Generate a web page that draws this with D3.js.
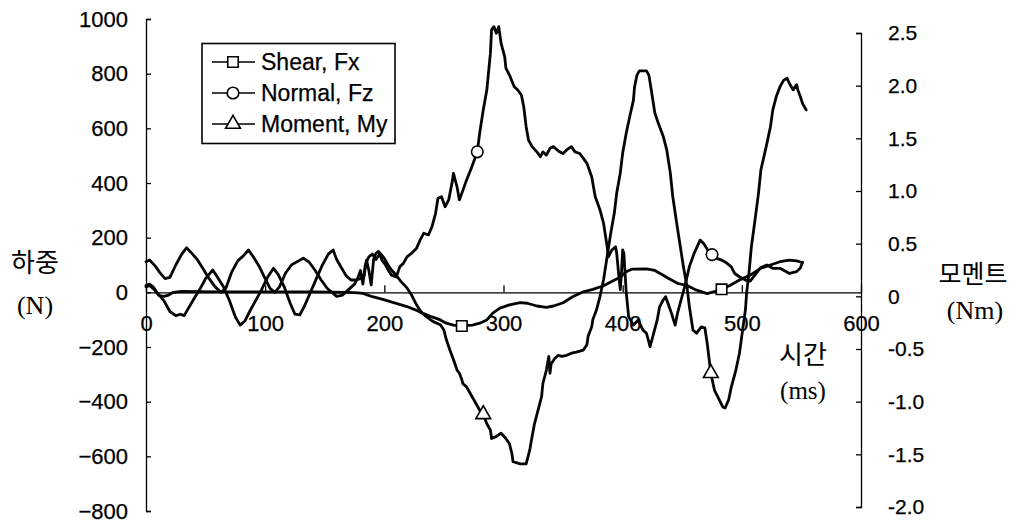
<!DOCTYPE html>
<html><head><meta charset="utf-8">
<script src="https://cdn.jsdelivr.net/npm/d3@7"></script>
<style>body{margin:0;background:#fff}svg{display:block}</style>
</head><body>
<svg id="chart" width="1020" height="526"></svg>
<script>
// ---- data ----
const xTicks = [0, 100, 200, 300, 400, 500, 600];
const leftTicks = [-800, -600, -400, -200, 0, 200, 400, 600, 800, 1000];
const rightTicks = [-2, -1.5, -1, -0.5, 0, 0.5, 1, 1.5, 2, 2.5];
const rightTickLabels = ["-2.0", "-1.5", "-1.0", "-0.5", "0", "0.5", "1.0", "1.5", "2.0", "2.5"];
const seriesNames = ["Shear, Fx", "Normal, Fz", "Moment, My"];

// Shear Fx [ms, N] (left axis)
const shear = [[0,20],[3,25],[7,10],[11,-12],[15,-15],[19,-10],[23,0],[30,3],[60,2],[100,2],[140,2],[170,0],[178,-2],[182,-4],[190,-16],[198,-25],[205,-34],[212,-43],[219,-52],[226,-64],[232,-76],[240,-90],[247,-101],[252,-113],[258,-120],[265,-123],[274,-120],[280,-113],[286,-101],[291,-76],[297,-58],[305,-46],[314,-38],[320,-40],[328,-50],[336,-55],[342,-50],[350,-38],[358,-16],[367,2],[375,11],[384,24],[392,42],[398,55],[403,75],[408,85],[420,86],[427,80],[433,65],[439,50],[446,33],[454,25],[462,8],[471,-5],[477,3],[483,11],[490,25],[498,45],[507,63],[516,88],[524,100],[532,112],[540,118],[546,115],[550,110]];

// Normal Fz [ms, N] (left axis)
const normal = [[0,112],[3,118],[8,95],[12,70],[16,50],[20,55],[25,100],[30,140],[34,163],[38,145],[43,120],[48,85],[53,50],[58,20],[63,0],[67,15],[72,75],[77,115],[82,135],[86,155],[90,130],[95,95],[100,50],[104,15],[108,0],[112,20],[117,70],[122,100],[128,115],[132,125],[137,110],[142,80],[147,45],[152,15],[156,0],[160,-15],[165,-10],[170,10],[175,30],[178,55],[180,80],[182,30],[184,100],[187,130],[190,140],[193,120],[196,140],[198,118],[201,100],[204,76],[206,63],[210,56],[213,94],[216,106],[219,130],[223,143],[227,161],[230,191],[233,216],[237,210],[240,240],[243,289],[245,344],[248,350],[251,313],[254,338],[257,405],[258,435],[261,386],[263,338],[265,362],[269,411],[273,454],[278,514],[280,582],[283,667],[286,740],[289,874],[290,960],[292,972],[294,948],[296,972],[298,911],[301,862],[302,820],[305,795],[309,752],[312,740],[315,722],[317,679],[319,606],[321,557],[324,533],[328,514],[331,496],[333,514],[336,502],[339,527],[342,533],[345,521],[347,514],[350,508],[353,521],[357,533],[360,514],[364,508],[367,490],[370,472],[374,423],[377,350],[381,301],[384,252],[387,167],[388,130],[391,155],[394,167],[395,143],[397,50],[398,10],[399,70],[400,155],[401,143],[402,70],[403,0],[405,-89],[409,-120],[413,-101],[417,-138],[420,-150],[423,-199],[426,-150],[429,-101],[431,-53],[434,-28],[436,-16],[438,-40],[441,-77],[444,-120],[446,-77],[449,-28],[452,20],[456,94],[460,143],[465,191],[468,179],[472,150],[475,138],[479,124],[483,118],[487,108],[491,94],[494,69],[498,57],[503,45],[507,41],[512,69],[516,91],[521,100],[526,88],[532,88],[540,69],[546,76],[549,88],[551,110]];

// Moment My [ms, Nm] (right axis)
const moment = [[0,0.103],[3,0.116],[6,0.09],[10,0.025],[15,-0.04],[20,-0.144],[25,-0.183],[29,-0.17],[32,-0.183],[36,-0.105],[40,-0.027],[45,0.064],[50,0.168],[56,0.251],[60,0.181],[65,0.09],[70,-0.04],[75,-0.196],[79,-0.273],[83,-0.234],[87,-0.144],[92,-0.04],[97,0.064],[102,0.181],[107,0.266],[111,0.207],[116,0.09],[121,-0.066],[125,-0.17],[129,-0.177],[133,-0.092],[138,0.038],[143,0.168],[148,0.297],[153,0.401],[157,0.44],[160,0.349],[164,0.272],[168,0.194],[172,0.155],[176,0.155],[180,0.168],[183,0.194],[185,0.344],[187,0.246],[189,0.108],[191,0.349],[193,0.409],[195,0.427],[198,0.39],[200,0.36],[203,0.3],[206,0.25],[210,0.2],[214,0.14],[219,0.08],[223,0.01],[227,-0.08],[231,-0.15],[235,-0.19],[241,-0.24],[247,-0.27],[250,-0.32],[252,-0.41],[255,-0.51],[258,-0.6],[261,-0.7],[263,-0.73],[265,-0.79],[266,-0.83],[269,-0.86],[272,-0.92],[275,-0.98],[277,-1.02],[281,-1.1],[283,-1.12],[286,-1.21],[289,-1.27],[290,-1.35],[294,-1.33],[298,-1.3],[302,-1.35],[305,-1.4],[307,-1.49],[308,-1.57],[314,-1.59],[319,-1.59],[322,-1.46],[324,-1.33],[326,-1.21],[329,-1.08],[332,-0.95],[333,-0.83],[336,-0.7],[338,-0.57],[339,-0.73],[340,-0.64],[343,-0.59],[346,-0.56],[349,-0.57],[353,-0.56],[357,-0.54],[361,-0.53],[367,-0.51],[370,-0.46],[371,-0.38],[374,-0.29],[375,-0.22],[378,-0.13],[381,0],[384,0.16],[387,0.38],[390,0.6],[393,0.79],[395,0.98],[398,1.17],[400,1.36],[403,1.55],[406,1.71],[409,1.86],[410,1.99],[412,2.1],[414,2.14],[420,2.14],[422,2.1],[424,1.96],[427,1.74],[430,1.64],[434,1.52],[437,1.39],[440,1.17],[442,0.95],[445,0.72],[448,0.5],[451,0.28],[454,0.09],[456,-0.1],[459,-0.32],[462,-0.35],[466,-0.29],[469,-0.3],[471,-0.45],[474,-0.73],[477,-0.89],[481,-0.98],[484,-1.05],[486,-1.06],[489,-0.98],[491,-0.87],[495,-0.7],[498,-0.54],[501,-0.29],[503,-0.13],[504,0.03],[506,0.22],[508,0.47],[511,0.72],[514,0.98],[516,1.2],[521,1.45],[524,1.61],[526,1.77],[529,1.9],[532,1.99],[535,2.05],[538,2.07],[540,2.02],[543,1.96],[546,2.01],[547,1.96],[549,1.9],[551,1.83],[554,1.77]];

// times (ms) where the markers sit
const shearMarks = [265, 483];
const normalMarks = [278, 475];
const momentMarks = [283, 474];

// ---- chart ----
const svg = d3.select('#chart');
const x = d3.scaleLinear().domain([0, 600]).range([146, 861]);
const yL = d3.scaleLinear().domain([-800, 1000]).range([511, 19]);
const yR = d3.scaleLinear().domain([-2, 2.5]).range([507, 33]);

const sansFont = "'Liberation Sans', Arial, sans-serif";
const krFont = "'Noto Sans CJK KR', sans-serif";
const serifFont = "'Liberation Serif', 'Times New Roman', serif";

function styleAxis(g, size) {
  g.attr('font-family', sansFont).attr('font-size', size);
  g.select('.domain').attr('stroke', '#000').attr('stroke-width', 1.3);
  g.selectAll('.tick line').attr('stroke', '#000').attr('stroke-width', 1.3);
  g.selectAll('.tick text').attr('fill', '#000').attr('stroke', '#000').attr('stroke-width', 0.25);
}

const gL = svg.append('g').attr('transform', 'translate(146,0)')
  .call(d3.axisLeft(yL).tickValues(leftTicks)
    .tickFormat(d => d < 0 ? '\u2212' + Math.abs(d) : String(d))
    .tickSize(-5).tickPadding(18));
styleAxis(gL, 22);

const gR = svg.append('g').attr('transform', 'translate(861,0)')
  .call(d3.axisRight(yR).tickValues(rightTicks)
    .tickFormat((d, i) => rightTickLabels[i])
    .tickSize(-5).tickPadding(27));
styleAxis(gR, 21);

const gX = svg.append('g').attr('transform', `translate(0,${yL(0)})`)
  .call(d3.axisBottom(x).tickValues(xTicks).tickFormat(d => String(d))
    .tickSize(-7).tickSizeOuter(0).tickPadding(23));
styleAxis(gX, 22);
gX.select('.domain').attr('stroke-width', 1.1);

// series lines
const lineL = d3.line().x(d => x(d[0])).y(d => yL(d[1]));
const lineR = d3.line().x(d => x(d[0])).y(d => yR(d[1]));
const plot = svg.append('g').attr('fill', 'none').attr('stroke', '#050505')
  .attr('stroke-width', 2.8).attr('stroke-linejoin', 'round').attr('stroke-linecap', 'round');
plot.append('path').attr('d', lineL(shear));
plot.append('path').attr('d', lineL(normal));
plot.append('path').attr('d', lineR(moment));

// markers
const symSquare = d3.symbol(d3.symbolSquare, 110);
const symCircle = d3.symbol(d3.symbolCircle, 105);
const symTriangle = d3.symbol(d3.symbolTriangle, 95);
function addMarkers(data, times, yScale, sym) {
  const pts = times.map(t => data.find(d => d[0] === t));
  svg.append('g').selectAll('path').data(pts).join('path')
    .attr('transform', d => `translate(${x(d[0])},${yScale(d[1])})`)
    .attr('d', sym()).attr('fill', '#fff').attr('stroke', '#000').attr('stroke-width', 1.6);
}
addMarkers(shear, shearMarks, yL, symSquare);
addMarkers(normal, normalMarks, yL, symCircle);
addMarkers(moment, momentMarks, yR, symTriangle);

// legend
const leg = svg.append('g');
leg.append('rect').attr('x', 202).attr('y', 43.5).attr('width', 193).attr('height', 100)
  .attr('fill', '#fff').attr('stroke', '#000').attr('stroke-width', 1.6);
const legSyms = [symSquare, symCircle, symTriangle];
const legY = [62, 93, 124];
seriesNames.forEach((name, i) => {
  leg.append('line').attr('x1', 212).attr('x2', 255).attr('y1', legY[i]).attr('y2', legY[i])
    .attr('stroke', '#000').attr('stroke-width', 1.6);
  leg.append('path').attr('transform', `translate(233,${legY[i]})`).attr('d', legSyms[i]())
    .attr('fill', '#fff').attr('stroke', '#000').attr('stroke-width', 1.6);
  leg.append('text').attr('x', 261).attr('y', legY[i]).attr('dy', '0.36em')
    .attr('font-family', sansFont).attr('font-size', 23).attr('fill', '#000')
    .attr('stroke', '#000').attr('stroke-width', 0.25).text(name);
});

// axis titles
function label(txt, cx, cy, font, size) {
  svg.append('text').attr('x', cx).attr('y', cy).attr('dy', '0.35em').attr('text-anchor', 'middle')
    .attr('font-family', font).attr('font-size', size).attr('fill', '#000').text(txt);
}
label('하중', 35, 263, krFont, 26);
label('(N)', 35, 305, serifFont, 26);
label('모멘트', 973, 274, krFont, 25);
label('(Nm)', 975, 310, serifFont, 26);
label('시간', 803, 355, krFont, 26);
label('(ms)', 803, 390, serifFont, 25);
</script>
</body></html>
